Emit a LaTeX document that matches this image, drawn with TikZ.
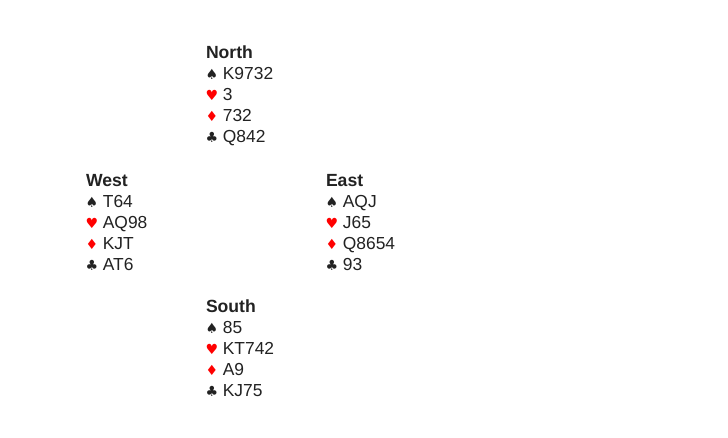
\documentclass[tikz,border=0pt]{standalone}
\usepackage{fontspec}
\setmainfont{Liberation Sans}
\newfontfamily\suitfont{DejaVu Sans}
\definecolor{ink}{HTML}{222222}
\definecolor{suitred}{HTML}{FF0000}
\newcommand{\Sp}{{\suitfont\fontsize{14}{14}\selectfont\color{ink}♠}}
\newcommand{\Ht}{{\suitfont\fontsize{14}{14}\selectfont\color{suitred}♥}}
\newcommand{\Di}{{\suitfont\fontsize{14}{14}\selectfont\color{suitred}♦}}
\newcommand{\Cl}{{\suitfont\fontsize{14}{14}\selectfont\color{ink}♣}}
\begin{document}
\begin{tikzpicture}[x=1pt,y=-1pt,
  every node/.style={inner sep=0pt,outer sep=0pt,anchor=base west,text=ink,font=\fontsize{17.4}{21}\selectfont},
  title/.style={font=\fontsize{17.6}{21}\selectfont\bfseries}]
\fill[white] (0,0) rectangle (728,437);
\useasboundingbox (0,0) rectangle (728,437);
% North
\node[title] (n0) at (206,58.8) {North};
\node (n1) at (205.5,79.8) {\Sp\ K9732};
\node (n2) at (205.5,100.8) {\Ht\ 3};
\node (n3) at (205.5,121.8) {\Di\ 732};
\node (n4) at (205.5,142.8) {\Cl\ Q842};
% West
\node[title] (w0) at (86,186.3) {West};
\node (w1) at (85.5,207.3) {\Sp\ T64};
\node (w2) at (85.5,228.3) {\Ht\ AQ98};
\node (w3) at (85.5,249.3) {\Di\ KJT};
\node (w4) at (85.5,270.3) {\Cl\ AT6};
% East
\node[title] (e0) at (326,186.3) {East};
\node (e1) at (325.5,207.3) {\Sp\ AQJ};
\node (e2) at (325.5,228.3) {\Ht\ J65};
\node (e3) at (325.5,249.3) {\Di\ Q8654};
\node (e4) at (325.5,270.3) {\Cl\ 93};
% South
\node[title] (s0) at (206,312.3) {South};
\node (s1) at (205.5,333.3) {\Sp\ 85};
\node (s2) at (205.5,354.3) {\Ht\ KT742};
\node (s3) at (205.5,375.3) {\Di\ A9};
\node (s4) at (205.5,396.3) {\Cl\ KJ75};
\end{tikzpicture}
\end{document}
